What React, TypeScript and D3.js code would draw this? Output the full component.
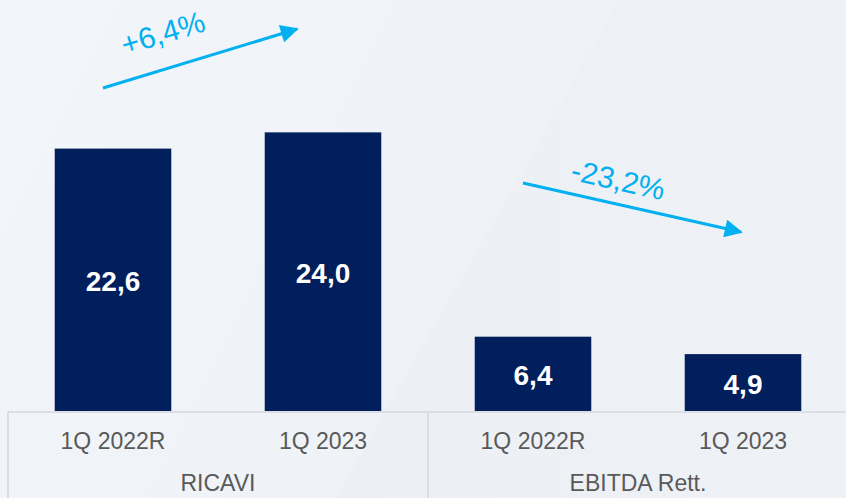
import React from "react";
import * as d3 from "d3";

const categories = ["1Q 2022R", "1Q 2023", "1Q 2022R", "1Q 2023"];
const values = [22.6, 24.0, 6.4, 4.9];
const valueLabels = ["22,6", "24,0", "6,4", "4,9"];
const groups = ["RICAVI", "EBITDA Rett."];
const changes = ["+6,4%", "-23,2%"];

const W = 846;
const H = 498;

export default function App() {
  const x = d3
    .scaleBand<number>()
    .domain(d3.range(values.length))
    .range([8, 848])
    .paddingInner(0.445)
    .paddingOuter(0.2225);
  const y = d3.scaleLinear().domain([0, 35.4]).range([411, 0]);
  const groupX = d3.scaleBand<number>().domain(d3.range(groups.length)).range([8, 848]);
  const font = "'Liberation Sans', Arial, sans-serif";
  const cyan = "#00b0f0";
  const arrows = [
    { x1: 103, y1: 88, x2: 299, y2: 29, tx: 166, ty: 43 },
    { x1: 523, y1: 183, x2: 743, y2: 232, tx: 616, ty: 190 },
  ];
  return (
    <div style={{ position: "absolute", left: 0, top: 0 }}>
      <svg width={W} height={H} style={{ display: "block" }}>
        <defs>
          <linearGradient id="bg" x1="0" y1="0" x2="1" y2="0.3">
            <stop offset="0" stopColor="#f2f5f9" />
            <stop offset="1" stopColor="#edf1f6" />
          </linearGradient>
          <linearGradient id="bg2" x1="0" y1="0" x2="1" y2="0">
            <stop offset="0" stopColor="#ecf0f5" />
            <stop offset="1" stopColor="#eef1f6" />
          </linearGradient>
          <marker id="ah" viewBox="0 0 10 10" refX="9" refY="5" markerWidth="6.5" markerHeight="6" orient="auto" markerUnits="strokeWidth">
            <path d="M0,0 L10,5 L0,10 z" fill={cyan} />
          </marker>
        </defs>
        <rect x={0} y={0} width={W} height={H} fill="url(#bg)" />
        <polygon points={`620,0 ${W},0 ${W},${H} 336,${H}`} fill="url(#bg2)" />
        {values.map((v, i) => (
          <g key={i}>
            <rect x={x(i)} y={y(v)} width={x.bandwidth()} height={y(0) - y(v)} fill="#001f5c" />
            <text
              x={(x(i) as number) + x.bandwidth() / 2}
              y={(y(v) + y(0)) / 2 + 11.5}
              textAnchor="middle"
              fontFamily={font}
              fontWeight="bold"
              fontSize={28}
              fill="#ffffff"
            >
              {valueLabels[i]}
            </text>
            <text
              x={(x(i) as number) + x.bandwidth() / 2}
              y={449}
              textAnchor="middle"
              fontFamily={font}
              fontSize={23}
              fill="#595959"
            >
              {categories[i]}
            </text>
          </g>
        ))}
        <line x1={8} x2={W} y1={412} y2={412} stroke="#d4d7db" strokeWidth={1.5} />
        {groups.map((g, i) => (
          <g key={g}>
            <line x1={groupX(i)} x2={groupX(i)} y1={412} y2={H} stroke="#d4d7db" strokeWidth={1.5} />
            <text
              x={(groupX(i) as number) + groupX.bandwidth() / 2}
              y={491}
              textAnchor="middle"
              fontFamily={font}
              fontSize={23}
              fill="#595959"
            >
              {g}
            </text>
          </g>
        ))}
        {arrows.map((a, i) => {
          const ang = (Math.atan2(a.y2 - a.y1, a.x2 - a.x1) * 180) / Math.PI;
          return (
            <g key={i}>
              <line x1={a.x1} y1={a.y1} x2={a.x2 - 2} y2={a.y2} stroke={cyan} strokeWidth={3} markerEnd="url(#ah)" />
              <text
                x={a.tx}
                y={a.ty}
                transform={`rotate(${ang} ${a.tx} ${a.ty})`}
                textAnchor="middle"
                fontFamily={font}
                fontSize={30}
                fill={cyan}
              >
                {changes[i]}
              </text>
            </g>
          );
        })}
      </svg>
    </div>
  );
}
